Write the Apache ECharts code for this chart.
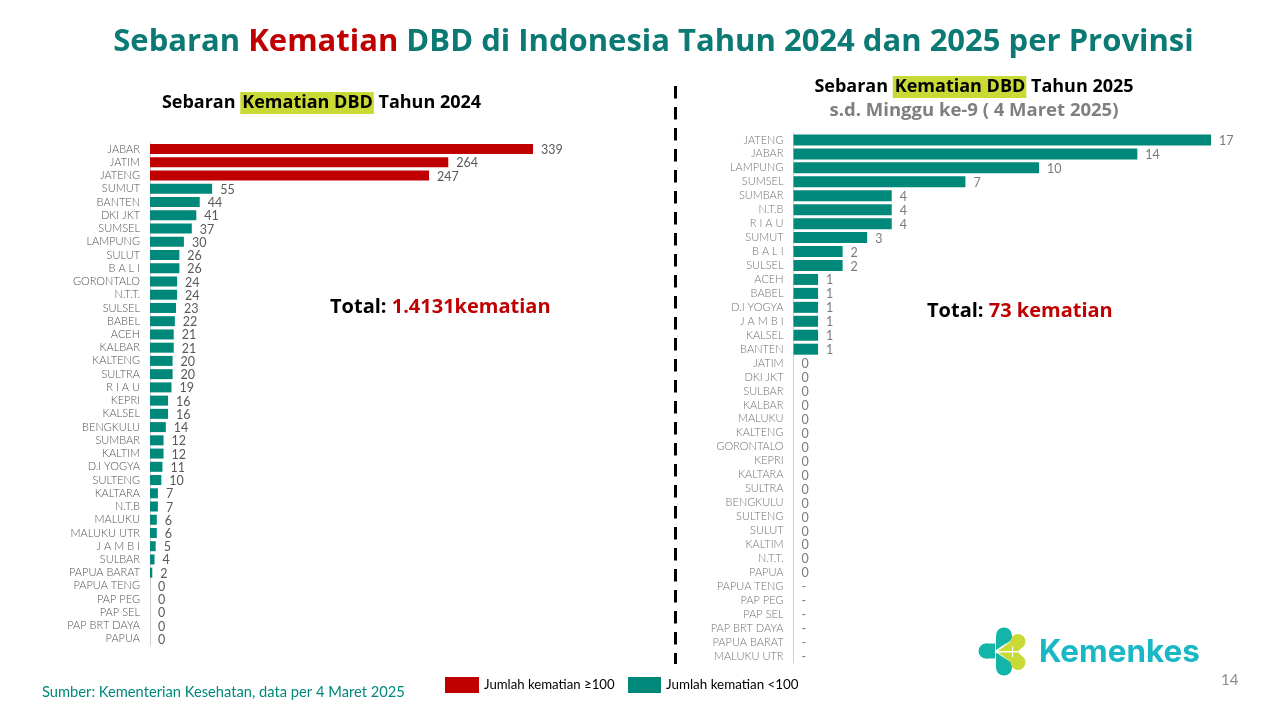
<!doctype html>
<html lang="id">

<head>
	<meta charset="utf-8">
	<script src="https://cdn.jsdelivr.net/npm/echarts@6/dist/echarts.min.js"></script>
	<style>
		html, body { margin: 0; padding: 0; background: #fff; }
		#container { width: 1280px; height: 720px; }
	</style>
</head>

<body>
	<div id="container"></div>
	<script>
		var prov2024 = ['JABAR', 'JATIM', 'JATENG', 'SUMUT', 'BANTEN', 'DKI JKT', 'SUMSEL', 'LAMPUNG', 'SULUT', 'B A L I',
			'GORONTALO', 'N.T.T.', 'SULSEL', 'BABEL', 'ACEH', 'KALBAR', 'KALTENG', 'SULTRA', 'R I A U', 'KEPRI',
			'KALSEL', 'BENGKULU', 'SUMBAR', 'KALTIM', 'D.I YOGYA', 'SULTENG', 'KALTARA', 'N.T.B', 'MALUKU', 'MALUKU UTR',
			'J A M B I', 'SULBAR', 'PAPUA BARAT', 'PAPUA TENG', 'PAP PEG', 'PAP SEL', 'PAP BRT DAYA', 'PAPUA'];
		var nilai2024 = [339, 264, 247, 55, 44, 41, 37, 30, 26, 26, 24, 24, 23, 22, 21, 21, 20, 20, 19, 16,
			16, 14, 12, 12, 11, 10, 7, 7, 6, 6, 5, 4, 2, 0, 0, 0, 0, 0];

		var prov2025 = ['JATENG', 'JABAR', 'LAMPUNG', 'SUMSEL', 'SUMBAR', 'N.T.B', 'R I A U', 'SUMUT', 'B A L I', 'SULSEL',
			'ACEH', 'BABEL', 'D.I YOGYA', 'J A M B I', 'KALSEL', 'BANTEN', 'JATIM', 'DKI JKT', 'SULBAR', 'KALBAR',
			'MALUKU', 'KALTENG', 'GORONTALO', 'KEPRI', 'KALTARA', 'SULTRA', 'BENGKULU', 'SULTENG', 'SULUT', 'KALTIM',
			'N.T.T.', 'PAPUA', 'PAPUA TENG', 'PAP PEG', 'PAP SEL', 'PAP BRT DAYA', 'PAPUA BARAT', 'MALUKU UTR'];
		// null = no data, shown as "-"
		var nilai2025 = [17, 14, 10, 7, 4, 4, 4, 3, 2, 2, 1, 1, 1, 1, 1, 1, 0, 0, 0, 0,
			0, 0, 0, 0, 0, 0, 0, 0, 0, 0, 0, 0, null, null, null, null, null, null];

		var namaTinggi = 'Jumlah kematian ≥100';
		var namaRendah = 'Jumlah kematian <100';
		var MERAH = '#c00000', HIJAU = '#00897b', ABU = '#595959';
		var TOSCA = '#12b5a8', KUNING = '#c9d935';
		var FONT = 'Lato', FONT_JUDUL = '"Open Sans"';

		function labelNilai(warna) {
			return {
				show: true,
				position: 'right',
				distance: 8,
				offset: [0, 1],
				color: warna,
				fontFamily: FONT,
				fontSize: 12.5,
				formatter: function (p) { return p.data.teks; }
			};
		}
		function titik(v) {
			return { value: v === null ? 0 : v, teks: v === null ? '-' : String(v) };
		}
		function axisY(idx, data, warna) {
			return {
				type: 'category', gridIndex: idx, inverse: true, data: data,
				axisTick: { show: false },
				axisLine: { lineStyle: { color: '#d0d0d0', width: 1 } },
				axisLabel: { interval: 0, margin: 10, color: warna, fontFamily: FONT, fontWeight: 300, fontSize: 11 }
			};
		}
		function judul(x, y, teks) {
			return {
				type: 'text', x: x, y: y,
				style: {
					text: teks, align: 'center', verticalAlign: 'middle',
					rich: {
						b: { fontFamily: FONT_JUDUL, fontWeight: 700, fontSize: 18, fill: '#000' },
						h: { fontFamily: FONT_JUDUL, fontWeight: 700, fontSize: 18, fill: '#000', backgroundColor: KUNING, padding: [2, 1, 2, 2] }
					}
				}
			};
		}
		function teksTotal(x, y, isi) {
			return {
				type: 'text', x: x, y: y,
				style: {
					text: '{k|Total: }{m|' + isi + '}',
					rich: {
						k: { fontFamily: FONT_JUDUL, fontWeight: 700, fontSize: 20, fill: '#000' },
						m: { fontFamily: FONT_JUDUL, fontWeight: 700, fontSize: 20, fill: MERAH }
					}
				}
			};
		}
		function bentuk(titikTitik, warna) {
			return { type: 'polygon', shape: { points: titikTitik }, style: { fill: warna } };
		}
		function bulat(cx, cy, r, warna) {
			return { type: 'circle', shape: { cx: cx, cy: cy, r: r }, style: { fill: warna } };
		}

		var chart = echarts.init(document.getElementById('container'), null, { renderer: 'canvas' });
		chart.setOption({
			animation: false,
			backgroundColor: '#fff',
			legend: [
				{
					left: 445, top: 677, padding: 0, icon: 'rect', itemWidth: 34, itemHeight: 16, itemGap: 6, selectedMode: false,
					data: [namaTinggi],
					textStyle: { color: '#000', fontFamily: FONT, fontSize: 13.2, padding: [0, 0, 3, 0] }
				},
				{
					left: 628, top: 677, padding: 0, icon: 'rect', itemWidth: 33, itemHeight: 16, selectedMode: false,
					data: [namaRendah],
					textStyle: { color: '#000', fontFamily: FONT, fontSize: 13.4, padding: [0, 0, 2, 0] }
				}
			],
			grid: [
				{ left: 150, top: 142.5, width: 383, height: 503 },
				{ left: 793.5, top: 133, width: 417.5, height: 530 }
			],
			xAxis: [
				{ type: 'value', gridIndex: 0, min: 0, max: 339, show: false },
				{ type: 'value', gridIndex: 1, min: 0, max: 17, show: false }
			],
			yAxis: [axisY(0, prov2024, '#505050'), axisY(1, prov2025, '#707070')],
			series: [
				{
					name: namaTinggi, type: 'bar', xAxisIndex: 0, yAxisIndex: 0, stack: 'a', barWidth: 10,
					itemStyle: { color: MERAH }, label: labelNilai(ABU),
					data: nilai2024.map(function (v) { return v >= 100 ? titik(v) : null; })
				},
				{
					name: namaRendah, type: 'bar', xAxisIndex: 0, yAxisIndex: 0, stack: 'a', barWidth: 10,
					itemStyle: { color: HIJAU }, label: labelNilai(ABU),
					data: nilai2024.map(function (v) { return v < 100 ? titik(v) : null; })
				},
				{
					name: namaRendah, type: 'bar', xAxisIndex: 1, yAxisIndex: 1, barWidth: 11,
					itemStyle: { color: HIJAU }, label: labelNilai('#7a7a7a'),
					data: nilai2025.map(titik)
				}
			],
			graphic: [
				{
					type: 'text', x: 653.5, y: 42,
					style: {
						text: '{t|Sebaran }{r|Kematian}{t| DBD di Indonesia Tahun 2024 dan 2025 per Provinsi}',
						align: 'center', verticalAlign: 'middle',
						rich: {
							t: { fontFamily: FONT_JUDUL, fontWeight: 700, fontSize: 31, fill: '#0b7a75' },
							r: { fontFamily: FONT_JUDUL, fontWeight: 700, fontSize: 31, fill: MERAH }
						}
					}
				},
				judul(321.5, 103, '{b|Sebaran }{h|Kematian DBD}{b| Tahun 2024}'),
				judul(974, 87, '{b|Sebaran }{h|Kematian DBD}{b| Tahun 2025}'),
				{
					type: 'text', x: 974, y: 111,
					style: {
						text: 's.d. Minggu ke-9 ( 4 Maret 2025)', align: 'center', verticalAlign: 'middle',
						fontFamily: FONT_JUDUL, fontWeight: 700, fontSize: 18.5, fill: '#7f7f7f'
					}
				},
				teksTotal(330, 297, '1.4131kematian'),
				teksTotal(927, 301, '73 kematian'),
				{
					type: 'line',
					shape: { x1: 675.5, y1: 86, x2: 675.5, y2: 664 },
					style: { stroke: '#000', lineWidth: 3, lineDash: [12.5, 8.5] }
				},
				{
					type: 'text', x: 42, y: 685,
					style: { text: 'Sumber: Kementerian Kesehatan, data per 4 Maret 2025', fontFamily: FONT, fontSize: 14.7, fill: '#00897b' }
				},
				{
					type: 'text', x: 1221, y: 673,
					style: { text: '14', fontFamily: FONT, fontSize: 15, fill: '#8c8c8c' }
				},
				// logo
				bulat(986, 651, 7.5, TOSCA),
				bentuk([[986, 643.5], [995, 643.5], [995, 658.5], [986, 658.5]], TOSCA),
				bulat(1004, 635.5, 8, TOSCA),
				bentuk([[996, 635.5], [1012, 635.5], [1012, 639.5], [996, 650]], TOSCA),
				bulat(1004, 667.5, 8, TOSCA),
				bentuk([[996, 652.5], [1012, 663], [1012, 667.5], [996, 667.5]], TOSCA),
				bentuk([[998, 651], [1012, 640.5], [1012, 651]], KUNING),
				bentuk([[998, 652.5], [1012, 652.5], [1012, 663]], KUNING),
				bulat(1018, 641.5, 7.5, KUNING),
				bentuk([[1013, 636], [1024.8, 644.5], [1018.5, 651], [1013, 651]], KUNING),
				bulat(1018, 662.5, 7.5, KUNING),
				bentuk([[1013, 652.5], [1018.5, 652.5], [1024.8, 659.5], [1013, 668]], KUNING),
				{
					type: 'text', x: 1039, y: 653,
					style: { text: 'Kemenkes', verticalAlign: 'middle', fontFamily: 'Inter', fontWeight: 700, fontSize: 31.4, fill: '#1ab7c4' }
				}
			]
		});
	</script>
</body>

</html>
